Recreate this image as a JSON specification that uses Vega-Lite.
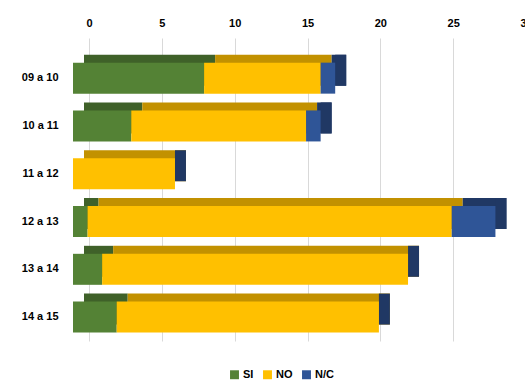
{
  "$schema": "https://vega.github.io/schema/vega-lite/v6.json",
  "width": 437,
  "height": 303,
  "autosize": {"type": "none"},
  "padding": {"left": 89, "top": 38, "right": 0, "bottom": 39},
  "background": "white",
  "data": {"values": [
    {"periodo": "09 a 10", "respuesta": "SI", "valor": 9},
    {"periodo": "09 a 10", "respuesta": "NO", "valor": 8},
    {"periodo": "09 a 10", "respuesta": "N/C", "valor": 1},
    {"periodo": "10 a 11", "respuesta": "SI", "valor": 4},
    {"periodo": "10 a 11", "respuesta": "NO", "valor": 12},
    {"periodo": "10 a 11", "respuesta": "N/C", "valor": 1},
    {"periodo": "11 a 12", "respuesta": "SI", "valor": 0},
    {"periodo": "11 a 12", "respuesta": "NO", "valor": 7},
    {"periodo": "11 a 12", "respuesta": "N/C", "valor": 0},
    {"periodo": "12 a 13", "respuesta": "SI", "valor": 1},
    {"periodo": "12 a 13", "respuesta": "NO", "valor": 25},
    {"periodo": "12 a 13", "respuesta": "N/C", "valor": 3},
    {"periodo": "13 a 14", "respuesta": "SI", "valor": 2},
    {"periodo": "13 a 14", "respuesta": "NO", "valor": 21},
    {"periodo": "13 a 14", "respuesta": "N/C", "valor": 0},
    {"periodo": "14 a 15", "respuesta": "SI", "valor": 3},
    {"periodo": "14 a 15", "respuesta": "NO", "valor": 18},
    {"periodo": "14 a 15", "respuesta": "N/C", "valor": 0}
  ]},
  "encoding": {
    "y": {
      "field": "periodo", "type": "nominal",
      "sort": ["09 a 10", "10 a 11", "11 a 12", "12 a 13", "13 a 14", "14 a 15"],
      "scale": {"paddingInner": 0, "paddingOuter": 0.17, "align": 1},
      "axis": {"title": null, "domain": false, "ticks": false, "grid": false, "labelPadding": 31, "labelFont": "Liberation Sans", "labelFontWeight": "bold", "labelFontSize": 11, "labelColor": "#000000"}
    }
  },
  "layer": [
    {
      "mark": {"type": "bar", "size": 31, "xOffset": -5, "yOffset": -8},
      "encoding": {
        "x": {
          "field": "valor", "type": "quantitative", "stack": "zero",
          "scale": {"domain": [0, 30], "nice": false},
          "axis": {"orient": "top", "title": null, "domain": false, "ticks": false, "grid": true, "gridColor": "#d9d9d9", "gridWidth": 1, "values": [0, 5, 10, 15, 20, 25, 30], "labelPadding": 10, "labelFont": "Liberation Sans", "labelFontWeight": "bold", "labelFontSize": 11, "labelColor": "#000000", "labelFlush": false}
        },
        "order": {"field": "respuesta", "sort": "descending"},
        "color": {"field": "respuesta", "type": "nominal", "sort": ["SI", "NO", "N/C"],
          "scale": {"domain": ["SI", "NO", "N/C"], "range": ["#3f6129", "#c29100", "#203864"]},
          "legend": null}
      }
    },
    {
      "mark": {"type": "tick", "size": 31, "thickness": 11, "xOffset": -10.5, "yOffset": -8, "color": "#203864", "opacity": 1},
      "encoding": {
        "x": {"aggregate": "sum", "field": "valor", "type": "quantitative"}
      }
    },
    {
      "mark": {"type": "bar", "size": 31, "xOffset": -16},
      "encoding": {
        "x": {"field": "valor", "type": "quantitative", "stack": "zero"},
        "order": {"field": "respuesta", "sort": "descending"},
        "color": {"field": "respuesta", "type": "nominal", "sort": ["SI", "NO", "N/C"],
          "scale": {"domain": ["SI", "NO", "N/C"], "range": ["#548235", "#ffc000", "#2f5597"]},
          "legend": {"orient": "none", "legendX": 140, "legendY": 331, "direction": "horizontal", "title": null, "symbolType": "square", "symbolSize": 80, "symbolStrokeWidth": 0, "labelFont": "Liberation Sans", "labelFontWeight": "bold", "labelFontSize": 11, "labelColor": "#000000", "columnPadding": 8, "labelOffset": 3}
        }
      }
    }
  ],
  "resolve": {"scale": {"color": "independent"}},
  "config": {"view": {"stroke": null}}
}
